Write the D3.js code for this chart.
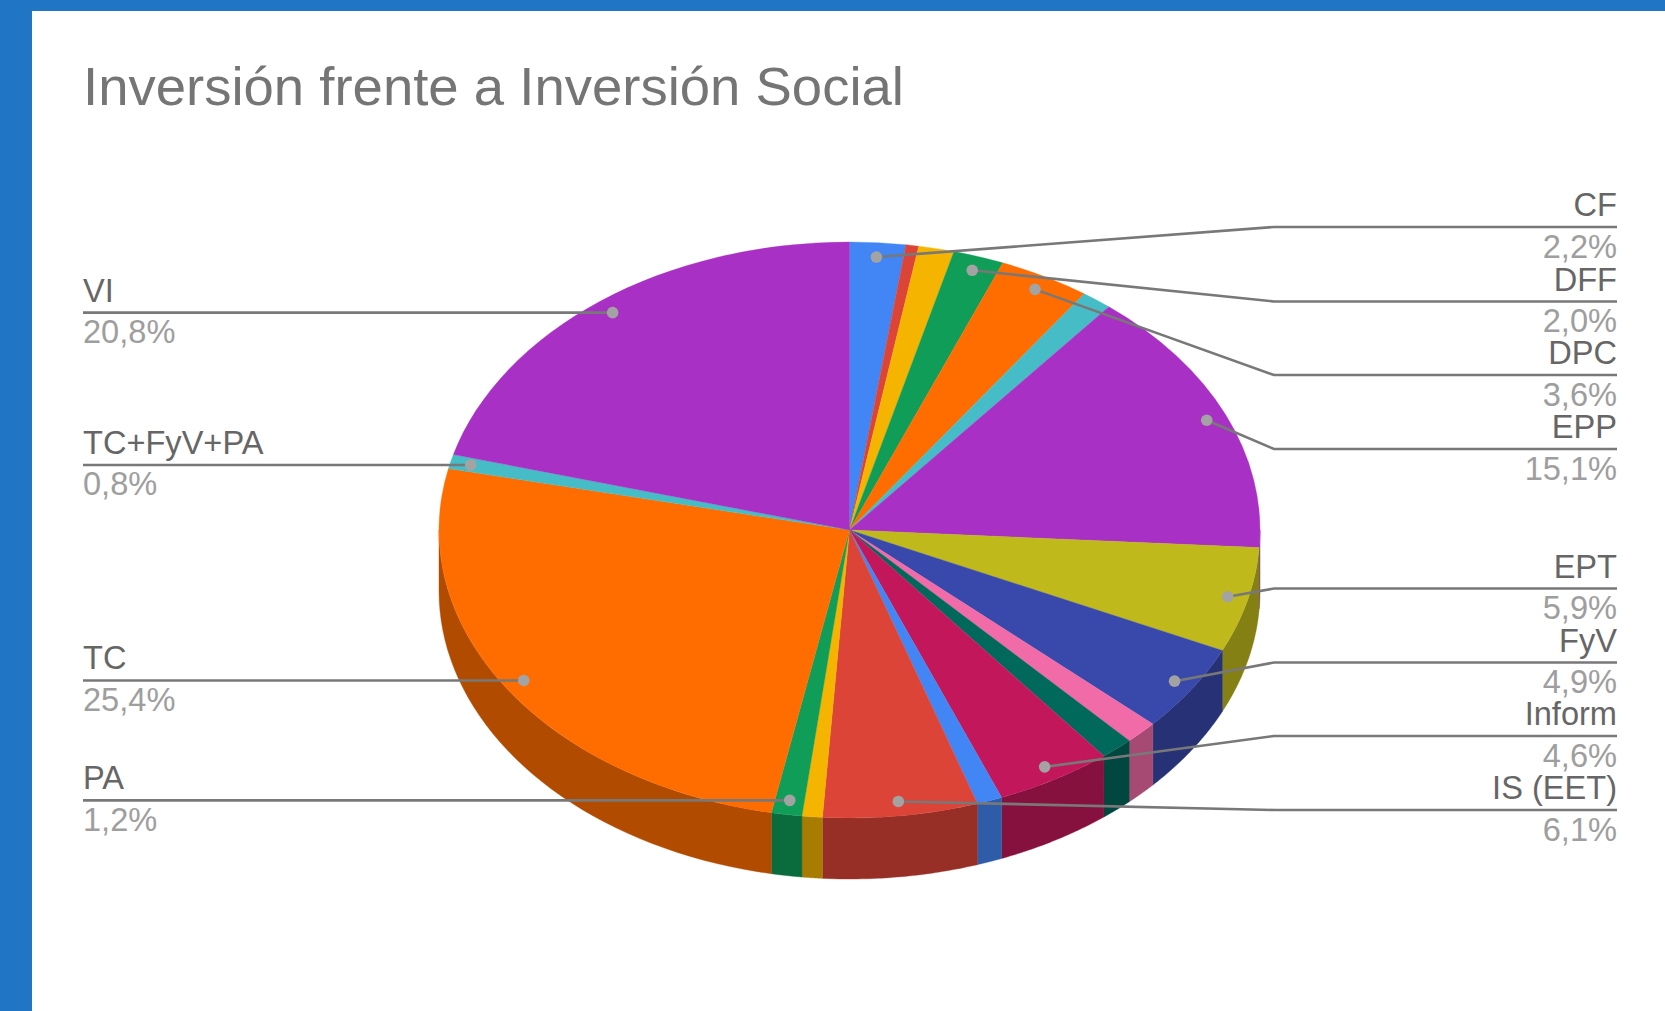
<!DOCTYPE html>
<html><head><meta charset="utf-8">
<script src="https://cdn.jsdelivr.net/npm/d3@7/dist/d3.min.js"></script>
<style>html,body{margin:0;padding:0;background:#2076c4;overflow:hidden}svg{display:block}text{font-family:"Liberation Sans",Arial,sans-serif}</style>
</head><body><svg id="c" width="1665" height="1011"></svg>
<script>
const categories = ["CF","s2","s3","DFF","DPC","s6","EPP","EPT","FyV","s10","s11","Inform","s13","IS (EET)","s15","PA","TC","TC+FyV+PA","VI"];
const values = [2.2,0.5,1.4,2.0,3.6,1.2,15.1,5.9,4.9,1.3,1.3,4.6,1.0,6.1,0.8,1.2,25.4,0.8,20.8];
const percentLabels = ["2,2%",null,null,"2,0%","3,6%",null,"15,1%","5,9%","4,9%",null,null,"4,6%",null,"6,1%",null,"1,2%","25,4%","0,8%","20,8%"];
const colors = ["#4285f4","#db4437","#f4b400","#0f9d58","#ff6d00","#46bdc6","#a930c4","#c0b91c","#3949ab","#f06ba8","#00695c","#c2185b","#4285f4","#db4437","#f4b400","#0f9d58","#ff6d00","#46bdc6","#a930c4"];
const rightRows = {"CF":227,"DFF":301.5,"DPC":375,"EPP":449,"EPT":588.5,"FyV":662.5,"Inform":736,"IS (EET)":810};

const W=1665,H=1011,cx=849.5,cy=530,rx=410.5,ry=288,depth=61;
const svg=d3.select("#c");
svg.append("rect").attr("x",32).attr("y",11).attr("width",W-32).attr("height",H-11).attr("fill","#fff");
svg.append("text").attr("x",83).attr("y",104.5).attr("font-size",54.5).attr("fill","#757575").text("Inversión frente a Inversión Social");

const slices=d3.pie().sort(null).value(d=>d)(values);
const X=d3.scaleLinear().domain([0,1]).range([cx,cx+rx]);
const Y=d3.scaleLinear().domain([0,1]).range([cy,cy+ry]);
const px=(a,k=1)=>X(k*Math.sin(a)), py=(a,k=1)=>Y(-k*Math.cos(a));
const dark=c=>{const q=d3.rgb(c);return d3.rgb(q.r*.69,q.g*.69,q.b*.69).formatHex()};
const line=d3.line();
const gWall=svg.append("g"), gTop=svg.append("g");
slices.forEach((s,i)=>{
  const a0=Math.max(s.startAngle,Math.PI/2),a1=Math.min(s.endAngle,Math.PI*1.5);
  if(a1<=a0)return;
  const as=d3.range(0,41).map(j=>a0+(a1-a0)*j/40);
  const pts=as.map(a=>[px(a),py(a)]).concat(as.slice().reverse().map(a=>[px(a),py(a)+depth]));
  gWall.append("path").attr("d",line(pts)+"Z").attr("fill",dark(colors[i])).attr("stroke",dark(colors[i])).attr("stroke-width",.4);
});
const arc=d3.arc().innerRadius(0).outerRadius(rx);
gTop.attr("transform",`translate(${cx},${cy}) scale(1,${ry/rx})`);
slices.forEach((s,i)=>{gTop.append("path").attr("d",arc(s)).attr("fill",colors[i]).attr("stroke",colors[i]).attr("stroke-width",.4)});

const gL=svg.append("g");
const elbowX=1274,rightX=1617,leftX=83,k=.95;
slices.forEach((s,i)=>{
  if(!percentLabels[i])return;
  const m=(s.startAngle+s.endAngle)/2,dx=px(m,k),dy=py(m,k);
  const right=m<Math.PI;
  const ly=right?rightRows[categories[i]]:dy;
  const pts=right?[[dx,dy],[elbowX,ly],[rightX,ly]]:[[dx,dy],[leftX,ly]];
  gL.append("path").attr("d",line(pts)).attr("fill","none").attr("stroke","#787878").attr("stroke-width",2.6);
  gL.append("circle").attr("cx",dx).attr("cy",dy).attr("r",5.8).attr("fill","#a3a3a3");
  const tx=right?rightX:leftX,anc=right?"end":"start";
  gL.append("text").attr("x",tx).attr("y",ly-11).attr("text-anchor",anc).attr("font-size",32.6).attr("fill","#666").text(categories[i]);
  gL.append("text").attr("x",tx).attr("y",ly+30.5).attr("text-anchor",anc).attr("font-size",32.6).attr("fill","#9e9e9e").text(percentLabels[i]);
});
</script></body></html>
